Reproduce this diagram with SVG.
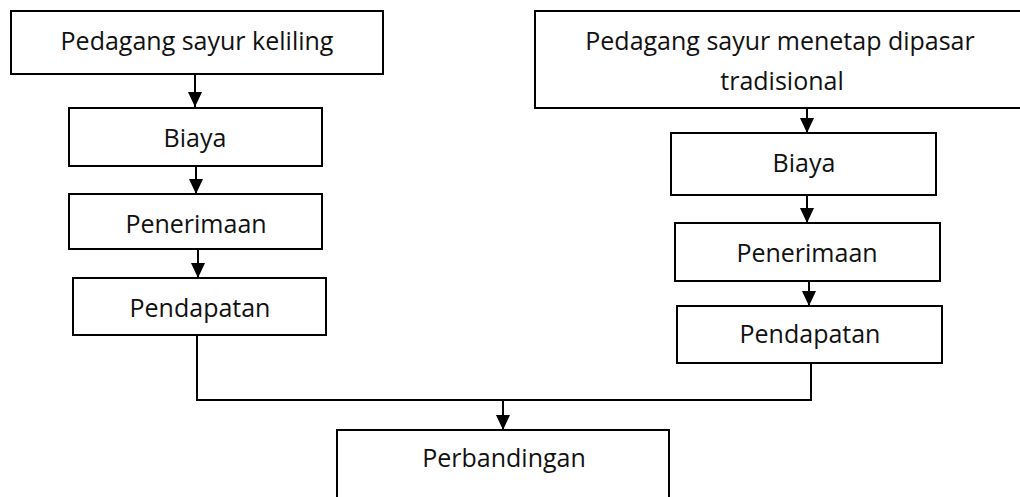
<svg xmlns="http://www.w3.org/2000/svg" width="1020" height="497" viewBox="0 0 1020 497">
<style>
.box{fill:#fff;stroke:#000;stroke-width:2}
.lbl{font-family:"Open Sans","Noto Sans","Liberation Sans",sans-serif;font-size:25px;fill:#111;text-anchor:middle}
.con{fill:none;stroke:#000;stroke-width:2}
</style>
<defs>
<marker id="ah" markerUnits="userSpaceOnUse" markerWidth="16" markerHeight="16" viewBox="0 0 16 16" refX="15" refY="8" orient="auto">
<path d="M0,1 L15,8 L0,15 Z" fill="#000"/>
</marker>
</defs>
<rect width="1020" height="497" fill="#fff"/>
<g id="connectors">
<line class="con" x1="195" y1="74" x2="195" y2="107" marker-end="url(#ah)"/>
<line class="con" x1="196" y1="166" x2="196" y2="194" marker-end="url(#ah)"/>
<line class="con" x1="198" y1="249" x2="198" y2="278" marker-end="url(#ah)"/>
<line class="con" x1="807" y1="108" x2="807" y2="133" marker-end="url(#ah)"/>
<line class="con" x1="807" y1="195" x2="807" y2="223" marker-end="url(#ah)"/>
<line class="con" x1="809" y1="281" x2="809" y2="306" marker-end="url(#ah)"/>
<polyline class="con" points="197,335 197,400 811,400 811,363"/>
<line class="con" x1="503" y1="400" x2="503" y2="430" marker-end="url(#ah)"/>
</g>
<g id="n-keliling">
<rect class="box" x="11" y="11" width="372" height="63"/>
<text class="lbl" x="197" y="50">Pedagang sayur keliling</text>
</g>
<g id="n-biaya-l">
<rect class="box" x="69" y="108" width="253" height="58"/>
<text class="lbl" x="195" y="147">Biaya</text>
</g>
<g id="n-penerimaan-l">
<rect class="box" x="69" y="194" width="253" height="55"/>
<text class="lbl" x="196" y="233">Penerimaan</text>
</g>
<g id="n-pendapatan-l">
<rect class="box" x="73" y="278" width="253" height="57"/>
<text class="lbl" x="200" y="317">Pendapatan</text>
</g>
<g id="n-menetap">
<rect class="box" x="535" y="11" width="495" height="97"/>
<text class="lbl" x="780" y="50">Pedagang sayur menetap dipasar</text>
<text class="lbl" x="782" y="90">tradisional</text>
</g>
<g id="n-biaya-r">
<rect class="box" x="671" y="133" width="265" height="62"/>
<text class="lbl" x="804" y="172">Biaya</text>
</g>
<g id="n-penerimaan-r">
<rect class="box" x="675" y="223" width="265" height="58"/>
<text class="lbl" x="807" y="262">Penerimaan</text>
</g>
<g id="n-pendapatan-r">
<rect class="box" x="677" y="306" width="265" height="57"/>
<text class="lbl" x="810" y="343">Pendapatan</text>
</g>
<g id="n-perbandingan">
<rect class="box" x="337" y="430" width="332" height="80"/>
<text class="lbl" x="504" y="467">Perbandingan</text>
</g>
</svg>
